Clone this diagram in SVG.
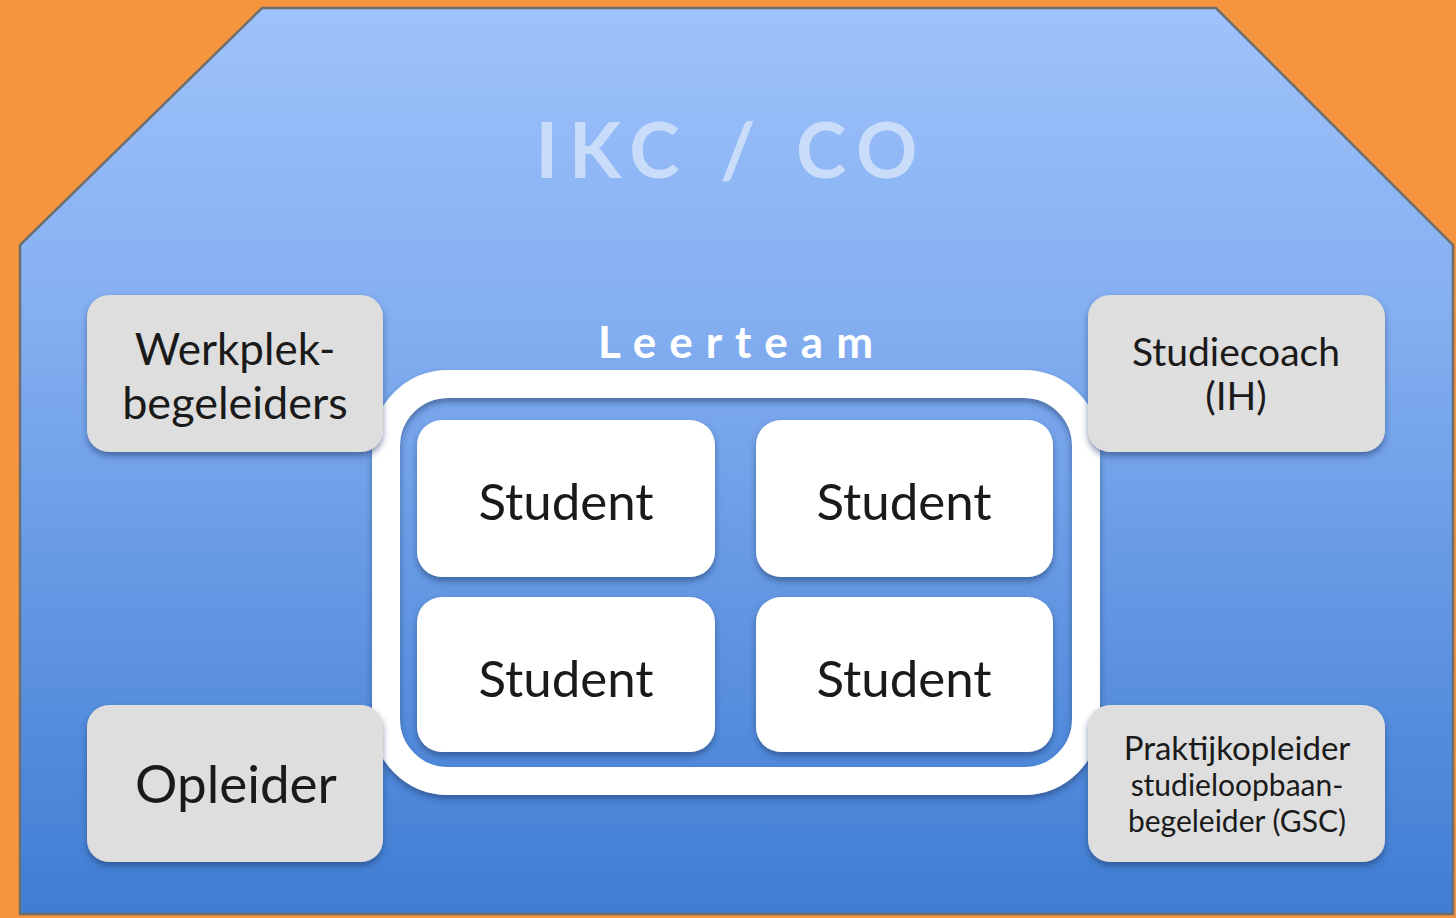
<svg xmlns="http://www.w3.org/2000/svg" width="1456" height="918" viewBox="0 0 1456 918">
<defs>
<linearGradient id="bg" x1="0" y1="0" x2="0" y2="1">
<stop offset="0" stop-color="#9EC2FB"/>
<stop offset="0.35" stop-color="#83AEF0"/>
<stop offset="1" stop-color="#3F7DD3"/>
</linearGradient>
<filter id="sh" x="-10%" y="-10%" width="120%" height="130%">
<feDropShadow dx="0" dy="4" stdDeviation="3" flood-color="#1A3A6A" flood-opacity="0.55"/>
</filter>
<style>
.gbox{fill:#DEDEDE;filter:url(#sh)}
.sbox{fill:#FFFFFF;filter:url(#sh)}
.t{font-family:Lato,"Liberation Sans",sans-serif;fill:#1A1A1A;text-anchor:middle}
</style>
</defs>
<rect x="0" y="0" width="1456" height="918" fill="#F5963F"/>
<path d="M262,8 L1216,8 L1453,245 L1453,914 L20,914 L20,245 Z" fill="url(#bg)" stroke="#6E6E6E" stroke-width="2.5"/>
<text x="732" y="178" font-family="Lato,'Liberation Sans',sans-serif" font-size="76" font-weight="bold" letter-spacing="11" fill="#C9DDFB" text-anchor="middle">IKC / CO</text>
<text x="742" y="358" font-family="Lato,'Liberation Sans',sans-serif" font-size="44" font-weight="bold" letter-spacing="13" fill="#FFFFFF" text-anchor="middle">Leerteam</text>
<g id="leerteam">
<rect x="386" y="384" width="700" height="397" rx="62" fill="none" stroke="#FFFFFF" stroke-width="28" filter="url(#sh)"/>
</g>
<g id="werkplek">
<rect class="gbox" x="87" y="295" width="296" height="157" rx="22"/>
<text class="t" x="235" y="365" font-size="44">Werkplek-</text>
<text class="t" x="235" y="419" font-size="45">begeleiders</text>
</g>
<g id="opleider">
<rect class="gbox" x="87" y="705" width="296" height="157" rx="22"/>
<text class="t" x="236" y="803" font-size="53">Opleider</text>
</g>
<g id="studiecoach">
<rect class="gbox" x="1088" y="295" width="297" height="157" rx="22"/>
<text class="t" x="1236" y="366" font-size="39">Studiecoach</text>
<text class="t" x="1236" y="410" font-size="39">(IH)</text>
</g>
<g id="praktijkopleider">
<rect class="gbox" x="1088" y="705" width="297" height="157" rx="22"/>
<text class="t" x="1237" y="760" font-size="33">Praktijkopleider</text>
<text class="t" x="1237" y="796" font-size="30">studieloopbaan-</text>
<text class="t" x="1237" y="832" font-size="30">begeleider (GSC)</text>
</g>
<g id="student1">
<rect class="sbox" x="417" y="420" width="298" height="157" rx="25"/>
<text class="t" x="566" y="520" font-size="51">Student</text>
</g>
<g id="student2">
<rect class="sbox" x="756" y="420" width="297" height="157" rx="25"/>
<text class="t" x="904" y="520" font-size="51">Student</text>
</g>
<g id="student3">
<rect class="sbox" x="417" y="597" width="298" height="155" rx="25"/>
<text class="t" x="566" y="697" font-size="51">Student</text>
</g>
<g id="student4">
<rect class="sbox" x="756" y="597" width="297" height="155" rx="25"/>
<text class="t" x="904" y="697" font-size="51">Student</text>
</g>
<g id="connectors"></g>
</svg>
